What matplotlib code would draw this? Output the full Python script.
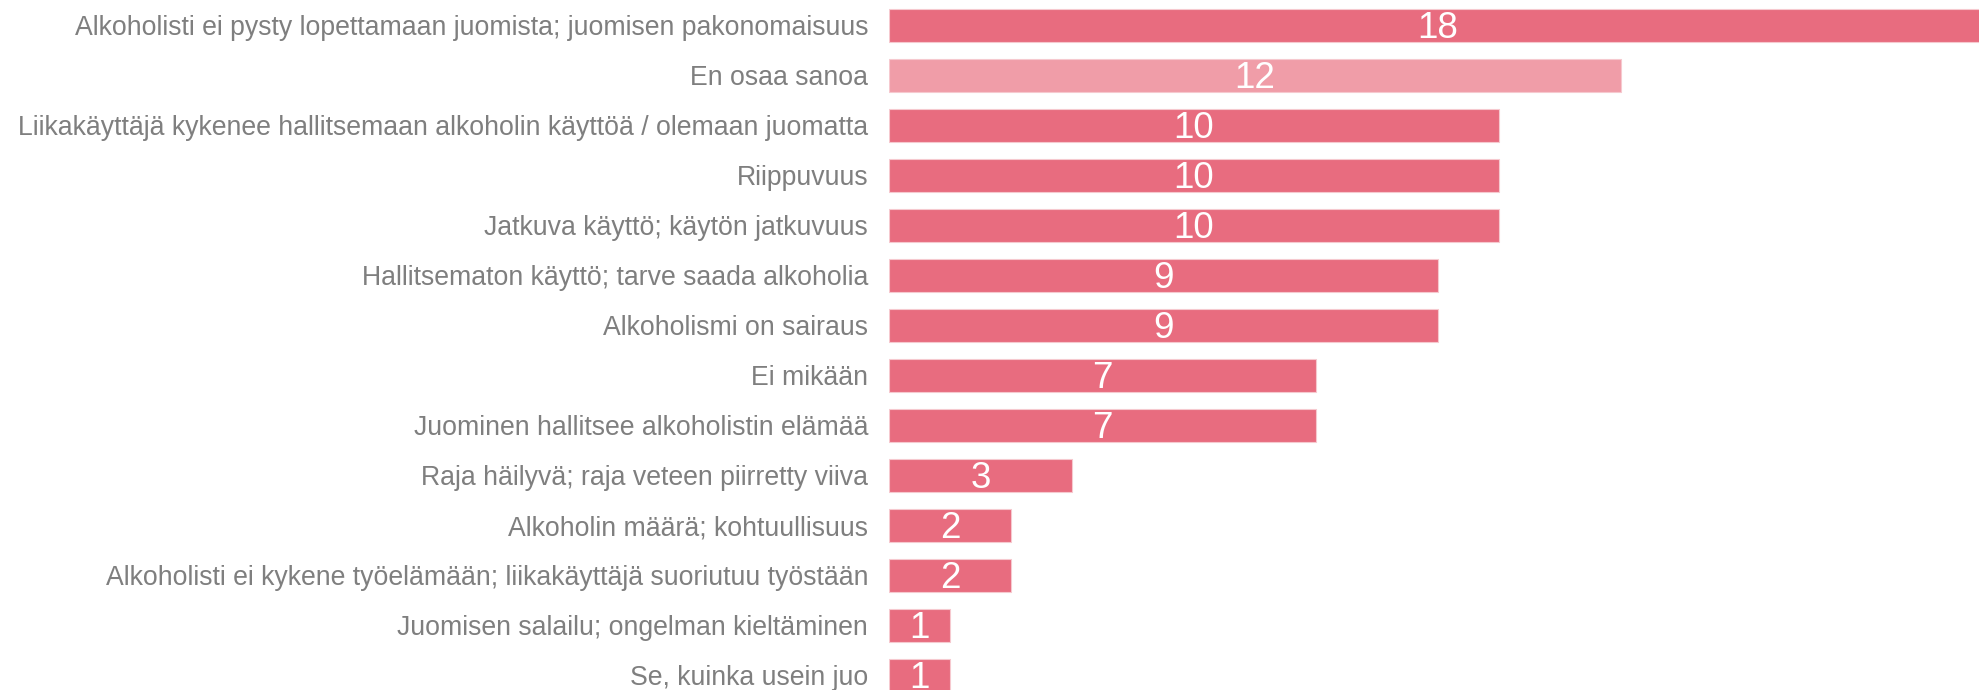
import matplotlib
matplotlib.use("Agg")
import matplotlib.pyplot as plt

categories = [
    "Alkoholisti ei pysty lopettamaan juomista; juomisen pakonomaisuus",
    "En osaa sanoa",
    "Liikakäyttäjä kykenee hallitsemaan alkoholin käyttöä / olemaan juomatta",
    "Riippuvuus",
    "Jatkuva käyttö; käytön jatkuvuus",
    "Hallitsematon käyttö; tarve saada alkoholia",
    "Alkoholismi on sairaus",
    "Ei mikään",
    "Juominen hallitsee alkoholistin elämää",
    "Raja häilyvä; raja veteen piirretty viiva",
    "Alkoholin määrä; kohtuullisuus",
    "Alkoholisti ei kykene työelämään; liikakäyttäjä suoriutuu työstään",
    "Juomisen salailu; ongelman kieltäminen",
    "Se, kuinka usein juo",
]
values = [18, 12, 10, 10, 10, 9, 9, 7, 7, 3, 2, 2, 1, 1]
highlight = "En osaa sanoa"

main_color = "#E86C7F"
light_color = "#F09DA8"

plt.rcParams['font.family'] = ['Liberation Sans', 'DejaVu Sans']

W, H = 1979, 690
fig = plt.figure(figsize=(W / 100, H / 100), dpi=100)
left_px = 889
px_per_unit = 61.0
pitch = 50.0
first_center = 25.5
ax = fig.add_axes([left_px / W, 0, 1 - left_px / W, 1])

n = len(categories)
ypos = list(range(n))
colors = [light_color if c == highlight else main_color for c in categories]
ax.barh(ypos, values, height=0.66, color=colors, edgecolor="#F6C9CF", linewidth=0.8)

ax.set_xlim(0, (W - left_px) / px_per_unit)
top = -first_center / pitch
bottom = top + H / pitch
ax.set_ylim(bottom, top)

for y, v in zip(ypos, values):
    ax.text(v / 2, y + 0.06, str(v), ha="center", va="center", color="white", fontsize=26.5)

ax.set_yticks(ypos)
ax.set_yticklabels(categories, fontsize=19.2, color="#7F7F7F")
ax.tick_params(axis="y", length=0, pad=15)
ax.set_xticks([])
for s in ax.spines.values():
    s.set_visible(False)

fig.savefig("out.png", dpi=100)
